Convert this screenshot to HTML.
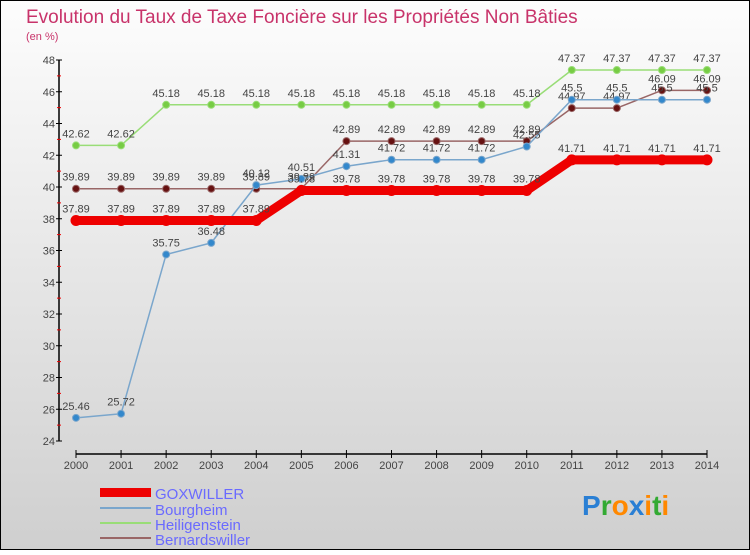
<!DOCTYPE html>
<html><head><meta charset="utf-8"><style>
body{margin:0}
svg text{font-family:"Liberation Sans",sans-serif}
</style></head><body>
<svg id="chart" width="750" height="550" xmlns="http://www.w3.org/2000/svg">
<defs><linearGradient id="bg" x1="0" y1="0" x2="0" y2="1"><stop offset="0" stop-color="#fdfdfd"/><stop offset="1" stop-color="#cfcfcf"/></linearGradient></defs>
<rect x="0.5" y="0.5" width="749" height="549" fill="url(#bg)" stroke="#000"/>
<text x="26" y="23" font-size="19" fill="#c8336a">Evolution du Taux de Taxe Foncière sur les Propriétés Non Bâties</text>
<text x="26" y="40" font-size="11" fill="#c8336a">(en %)</text>
<g id="axes"></g>
<g id="series"></g>
<g id="legend">
<rect x="100" y="488" width="51" height="9" fill="#e00"/>
<text x="155" y="499" font-size="15" fill="#6a6aff">GOXWILLER</text>
<line x1="100" y1="508" x2="151" y2="508" stroke="#7aa6cc" stroke-width="2"/>
<text x="155" y="515" font-size="15" fill="#6a6aff">Bourgheim</text>
<line x1="100" y1="523" x2="151" y2="523" stroke="#99dd77" stroke-width="2"/>
<text x="155" y="530" font-size="15" fill="#6a6aff">Heiligenstein</text>
<line x1="100" y1="538" x2="151" y2="538" stroke="#996666" stroke-width="2"/>
<text x="155" y="545" font-size="15" fill="#6a6aff">Bernardswiller</text>
</g>
<text x="582" y="515" font-size="28" font-weight="bold"><tspan fill="#2a7fd4">P</tspan><tspan fill="#33aa33">r</tspan><tspan fill="#ff8800">o</tspan><tspan fill="#2a7fd4">x</tspan><tspan fill="#ff8800">i</tspan><tspan fill="#33aa33">t</tspan><tspan fill="#ff8800">i</tspan></text>
</svg>
<script>
const years=[2000,2001,2002,2003,2004,2005,2006,2007,2008,2009,2010,2011,2012,2013,2014];
const yTicks=[24,26,28,30,32,34,36,38,40,42,44,46,48];
const goxwiller=[37.89,37.89,37.89,37.89,37.89,39.78,39.78,39.78,39.78,39.78,39.78,41.71,41.71,41.71,41.71];
const bourgheim=[25.46,25.72,35.75,36.48,40.12,40.51,41.31,41.72,41.72,41.72,42.55,45.5,45.5,45.5,45.5];
const heiligenstein=[42.62,42.62,45.18,45.18,45.18,45.18,45.18,45.18,45.18,45.18,45.18,47.37,47.37,47.37,47.37];
const bernardswiller=[39.89,39.89,39.89,39.89,39.89,39.89,42.89,42.89,42.89,42.89,42.89,44.97,44.97,46.09,46.09];
const NS="http://www.w3.org/2000/svg";
const X=i=>76+i*(707-76)/(years.length-1);
const Y=v=>441-(v-24)*(441-60)/24;
function mk(p,t,a){const e=document.createElementNS(NS,t);for(const k in a)e.setAttribute(k,a[k]);p.appendChild(e);return e;}
const ax=document.getElementById('axes');
let l=mk(ax,'line',{x1:59,y1:60,x2:59,y2:441,stroke:'#000','stroke-width':1.5});


l=mk(ax,'line',{x1:76,y1:454,x2:707,y2:454,stroke:'#000','stroke-width':1.5});


yTicks.forEach(v=>{
 mk(ax,'line',{x1:56,y1:Y(v),x2:62,y2:Y(v),stroke:'#000'});
 if(v<48) mk(ax,'line',{x1:57,y1:Y(v+1),x2:61,y2:Y(v+1),stroke:'#e00'});
 const t=mk(ax,'text',{x:55,y:Y(v)+4,'font-size':11,fill:'#444','text-anchor':'end'});
 t.textContent=v;
 
 
});
years.forEach((yr,i)=>{
 mk(ax,'line',{x1:X(i),y1:450,x2:X(i),y2:458,stroke:'#000'});
 const t=mk(ax,'text',{x:X(i),y:469,'font-size':11,fill:'#444','text-anchor':'middle'});
 t.textContent=yr;
 
 
});
const sg=document.getElementById('series');
function series(vals,name,color,w,fill,r){
 const g=mk(sg,'g',{});
 
 
 const p=mk(g,'polyline',{points:vals.map((v,i)=>X(i)+','+Y(v)).join(' '),fill:'none',stroke:color,'stroke-width':w,'stroke-linejoin':'round'});
 
 
 vals.forEach((v,i)=>{
  const c=mk(g,'circle',{cx:X(i),cy:Y(v),r:r,fill:fill,stroke:color,'stroke-width':1});
  
  
  const t=mk(g,'text',{x:X(i),y:Y(v)-8,'font-size':11,fill:'#444','text-anchor':'middle'});
  t.textContent=String(v);
  
  
 });
}
series(heiligenstein,'heiligenstein','#99dd77',1.5,'#77cc44',3.5);
series(bernardswiller,'bernardswiller','#996666',1.5,'#661111',3.5);
series(bourgheim,'bourgheim','#7aa6cc',1.5,'#3388cc',3.5);
series(goxwiller,'goxwiller','#ee0000',9,'#ee0000',5);
</script>
</body></html>
